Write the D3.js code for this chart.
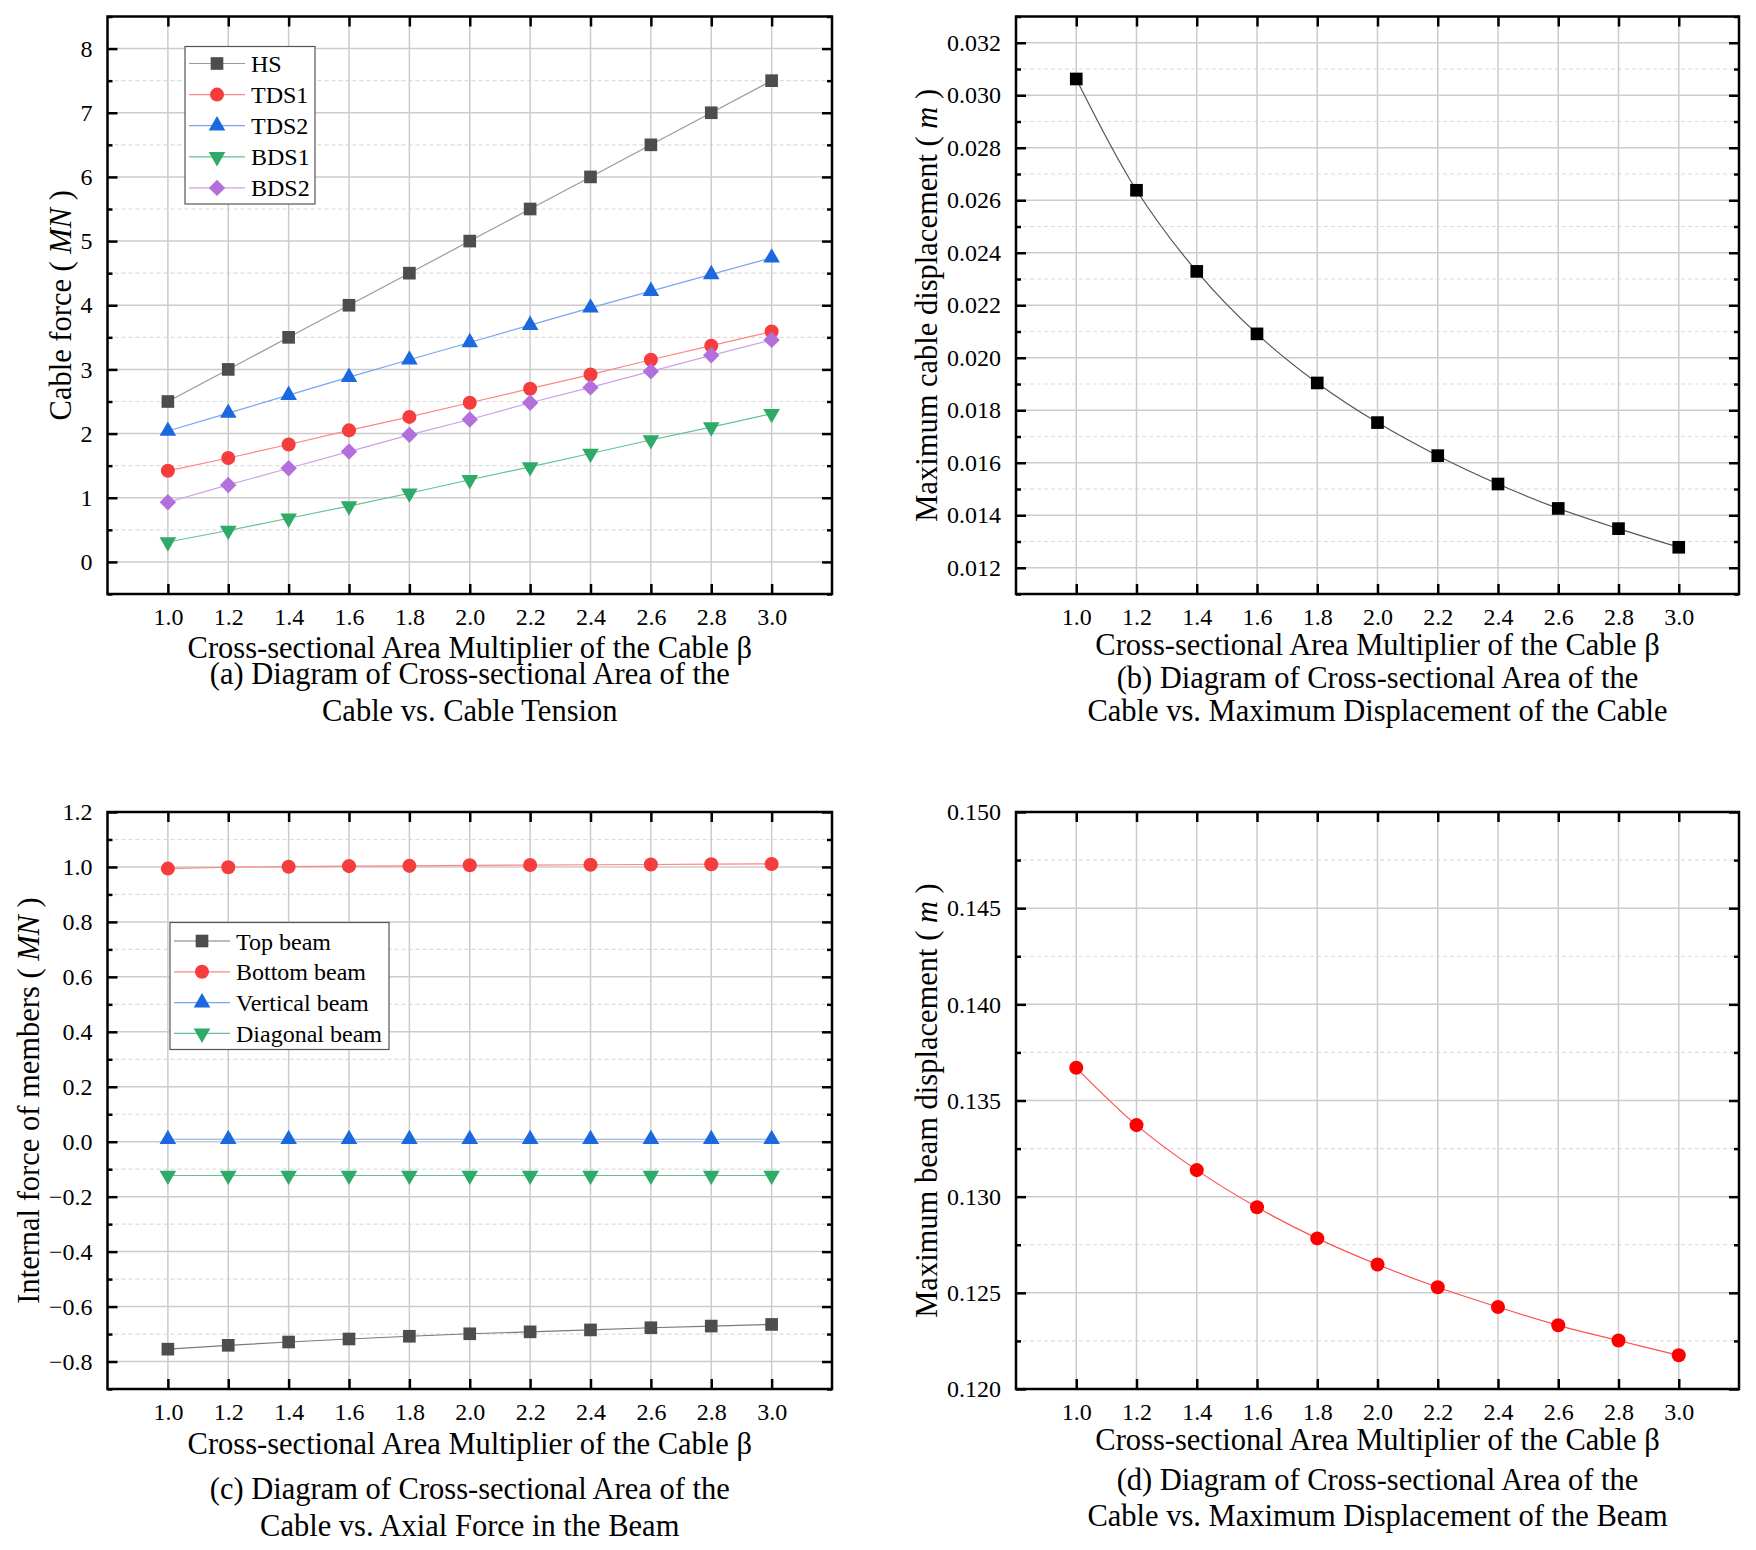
<!DOCTYPE html>
<html>
<head>
<meta charset="utf-8">
<script src="https://cdn.jsdelivr.net/npm/d3@7"></script>
<style>
  html, body { margin: 0; padding: 0; background: #fff; }
  svg text { font-family: "Liberation Serif", "Times New Roman", serif; fill: #000; }
</style>
</head>
<body>
<svg id="fig" width="1756" height="1550"></svg>
<script>
// ---- data ----
var BETA = [1.0, 1.2, 1.4, 1.6, 1.8, 2.0, 2.2, 2.4, 2.6, 2.8, 3.0];

// (a) cable force, MN
var HS   = [2.50, 3.00, 3.50, 4.00, 4.50, 5.00, 5.50, 6.00, 6.50, 7.00, 7.50];
var TDS1 = [1.42, 1.62, 1.83, 2.05, 2.26, 2.48, 2.70, 2.92, 3.15, 3.37, 3.59];
var TDS2 = [2.04, 2.32, 2.60, 2.88, 3.15, 3.42, 3.69, 3.96, 4.22, 4.48, 4.74];
var BDS1 = [0.31, 0.49, 0.68, 0.87, 1.07, 1.28, 1.48, 1.69, 1.90, 2.10, 2.31];
var BDS2 = [0.93, 1.20, 1.46, 1.72, 1.98, 2.22, 2.48, 2.72, 2.97, 3.22, 3.46];

// (b) maximum cable displacement, m
var CABLE_DISP = [0.03062, 0.02638, 0.02329, 0.02091, 0.01904, 0.01753,
                  0.01627, 0.01519, 0.01426, 0.01349, 0.01278];

// (c) internal force of members, MN
var TOP_BEAM      = [-0.755, -0.741, -0.729, -0.718, -0.708, -0.699, -0.692, -0.685, -0.677, -0.671, -0.665];
var BOTTOM_BEAM   = [0.994, 0.999, 1.001, 1.003, 1.004, 1.006, 1.007, 1.008, 1.009, 1.010, 1.011];
var VERTICAL_BEAM = [0.009, 0.009, 0.009, 0.009, 0.009, 0.009, 0.009, 0.009, 0.009, 0.009, 0.009];
var DIAGONAL_BEAM = [-0.123, -0.123, -0.123, -0.123, -0.123, -0.123, -0.123, -0.123, -0.123, -0.123, -0.123];

// (d) maximum beam displacement, m
var BEAM_DISP = [0.13670, 0.13372, 0.13138, 0.12945, 0.12783, 0.12647,
                 0.12529, 0.12426, 0.12331, 0.12252, 0.12175];

var X_TITLE = "Cross-sectional Area Multiplier of the Cable \u03b2";

var TITLE_FONT = "30.5px";
var TICK_FONT = "24px";

var svg = d3.select("#fig");

// marker shapes
var SHAPES = {
  square:   {sym: d3.symbolSquare,   size: 160, rot: 0},
  circle:   {sym: d3.symbolCircle,   size: 155, rot: 0},
  up:       {sym: d3.symbolTriangle, size: 120, rot: 0},
  down:     {sym: d3.symbolTriangle, size: 120, rot: 180},
  diamond:  {sym: d3.symbolSquare,   size: 135, rot: 45}
};

function marker(g, shape, x, y, fill) {
  var s = SHAPES[shape];
  g.append("path")
   .attr("d", d3.symbol().type(s.sym).size(s.size)())
   .attr("transform", "translate(" + x + "," + y + ") rotate(" + s.rot + ")")
   .attr("fill", fill);
}

/**
 * Draw one panel: frame, grid, inward ticks, labels, series, captions
 */
function draw_panel(p) {
  var g = svg.append("g");

  var xscale = d3.scaleLinear().domain([0.8, 3.2]).range([p.left, p.right]);
  var yscale = d3.scaleLinear().domain(p.ydomain).range([p.bottom, p.top]);

  // minor grid (dashed)
  g.selectAll(".ymin").data(p.yminor).enter().append("line")
   .attr("x1", p.left).attr("x2", p.right)
   .attr("y1", function (d) { return yscale(d); })
   .attr("y2", function (d) { return yscale(d); })
   .attr("stroke", "#dcdcdc").attr("stroke-width", 1.2)
   .attr("stroke-dasharray", "4,3");

  // major grid
  g.selectAll(".ymaj").data(p.yticks).enter().append("line")
   .attr("x1", p.left).attr("x2", p.right)
   .attr("y1", function (d) { return yscale(d); })
   .attr("y2", function (d) { return yscale(d); })
   .attr("stroke", "#cccccc").attr("stroke-width", 1.5);

  g.selectAll(".xmaj").data(BETA).enter().append("line")
   .attr("y1", p.top).attr("y2", p.bottom)
   .attr("x1", function (d) { return xscale(d); })
   .attr("x2", function (d) { return xscale(d); })
   .attr("stroke", "#cccccc").attr("stroke-width", 1.5);

  // axes with inward ticks, on all four sides
  var fmt = d3.format(p.fmt);
  var y_left = d3.axisLeft(yscale).tickValues(p.yticks).tickSize(-10).tickFormat(fmt).tickPadding(15);
  var y_right = d3.axisRight(yscale).tickValues(p.yticks).tickSize(-10).tickFormat("");
  var y_left_min = d3.axisLeft(yscale).tickValues(p.yminor).tickSize(-5).tickFormat("");
  var y_right_min = d3.axisRight(yscale).tickValues(p.yminor).tickSize(-5).tickFormat("");
  var x_bottom = d3.axisBottom(xscale).tickValues(BETA).tickSize(-10).tickFormat(d3.format(".1f")).tickPadding(14);
  var x_top = d3.axisTop(xscale).tickValues(BETA).tickSize(-10).tickFormat("");

  [
    [y_left, "translate(" + p.left + ",0)"],
    [y_right, "translate(" + p.right + ",0)"],
    [y_left_min, "translate(" + p.left + ",0)"],
    [y_right_min, "translate(" + p.right + ",0)"],
    [x_bottom, "translate(0," + p.bottom + ")"],
    [x_top, "translate(0," + p.top + ")"]
  ].forEach(function (a) {
    var ax = g.append("g").attr("transform", a[1]).call(a[0]);
    ax.select(".domain").remove();
    ax.selectAll(".tick line").attr("stroke", "#000").attr("stroke-width", 2.5);
    ax.selectAll("text").style("font-size", TICK_FONT).attr("fill", "#000");
  });

  // series
  p.series.forEach(function (s) {
    var line = d3.line()
                 .x(function (d, i) { return xscale(BETA[i]); })
                 .y(function (d) { return yscale(d); })
                 .curve(p.smooth ? d3.curveCatmullRom : d3.curveLinear);
    g.append("path").datum(s.values)
     .attr("d", line).attr("fill", "none")
     .attr("stroke", s.line).attr("stroke-width", 1.2);
    s.values.forEach(function (v, i) {
      marker(g, s.shape, xscale(BETA[i]), yscale(v), s.color);
    });
  });

  // frame
  g.append("rect")
   .attr("x", p.left).attr("y", p.top)
   .attr("width", p.right - p.left).attr("height", p.bottom - p.top)
   .attr("fill", "none").attr("stroke", "#000").attr("stroke-width", 2.5);

  // legend
  if (p.legend) {
    var L = p.legend;
    g.append("rect")
     .attr("x", L.x).attr("y", L.y).attr("width", L.w).attr("height", L.h)
     .attr("fill", "#fff").attr("stroke", "#555").attr("stroke-width", 1.2);
    p.series.forEach(function (s, i) {
      var yy = L.y + L.first + i * L.step;
      g.append("line")
       .attr("x1", L.x + 4).attr("x2", L.x + 60)
       .attr("y1", yy).attr("y2", yy)
       .attr("stroke", s.line).attr("stroke-width", 1.2);
      marker(g, s.shape, L.x + 32, yy, s.color);
      g.append("text")
       .attr("x", L.x + 66).attr("y", yy + 8.5)
       .style("font-size", TICK_FONT)
       .text(s.name);
    });
  }

  // x title and caption
  var cx = (p.left + p.right) / 2;
  g.append("text").attr("x", cx).attr("y", p.xtitle_y)
   .attr("text-anchor", "middle").style("font-size", TITLE_FONT).text(X_TITLE);
  p.caption.forEach(function (c, i) {
    g.append("text").attr("x", cx).attr("y", p.caption_y[i])
     .attr("text-anchor", "middle").style("font-size", TITLE_FONT).text(c);
  });

  // y title (rotated, with italic unit)
  var cy = (p.top + p.bottom) / 2;
  var yt = g.append("text")
            .attr("transform", "translate(" + p.ytitle_x + "," + cy + ") rotate(-90)")
            .attr("text-anchor", "middle").style("font-size", TITLE_FONT);
  yt.append("tspan").text(p.ytitle[0]);
  yt.append("tspan").style("font-style", "italic").text(p.ytitle[1]);
  yt.append("tspan").text(p.ytitle[2]);
}

function steps(a, b, step) {
  var out = [];
  var n = Math.round((b - a) / step);
  for (var i = 0; i <= n; i++) out.push(+(a + i * step).toFixed(6));
  return out;
}

// ---- (a) ----
draw_panel({
  left: 107.5, right: 832, top: 16.5, bottom: 594,
  ydomain: [-0.5, 8.5],
  yticks: steps(0, 8, 1), yminor: steps(-0.5, 8.5, 1),
  fmt: "d",
  series: [
    {name: "HS",   values: HS,   shape: "square",  color: "#4d4d4d", line: "#9a9a9a"},
    {name: "TDS1", values: TDS1, shape: "circle",  color: "#f53d3d", line: "#ff8484"},
    {name: "TDS2", values: TDS2, shape: "up",      color: "#1c68de", line: "#78a6ee"},
    {name: "BDS1", values: BDS1, shape: "down",    color: "#2eab68", line: "#63c28f"},
    {name: "BDS2", values: BDS2, shape: "diamond", color: "#b36fdc", line: "#c9a2e9"}
  ],
  legend: {x: 185, y: 46.5, w: 130, h: 157.5, first: 17, step: 31.1},
  xtitle_y: 658,
  caption: ["(a) Diagram of Cross-sectional Area of the", "Cable vs. Cable Tension"],
  caption_y: [684, 721],
  ytitle_x: 71,
  ytitle: ["Cable force ( ", "MN", " )"]
});

// ---- (b) ----
draw_panel({
  left: 1016, right: 1739, top: 16.5, bottom: 594,
  ydomain: [0.011, 0.033],
  yticks: steps(0.012, 0.032, 0.002), yminor: steps(0.011, 0.033, 0.002),
  fmt: ".3f",
  smooth: true,
  series: [
    {name: "disp", values: CABLE_DISP, shape: "square", color: "#000", line: "#555"}
  ],
  xtitle_y: 655,
  caption: ["(b) Diagram of Cross-sectional Area of the", "Cable vs. Maximum Displacement of the Cable"],
  caption_y: [688, 721],
  ytitle_x: 937,
  ytitle: ["Maximum cable displacement ( ", "m", " )"]
});

// ---- (c) ----
draw_panel({
  left: 107.5, right: 832, top: 812, bottom: 1389,
  ydomain: [-0.9, 1.2],
  yticks: steps(-0.8, 1.2, 0.2), yminor: steps(-0.9, 1.1, 0.2),
  fmt: ".1f",
  series: [
    {name: "Top beam",      values: TOP_BEAM,      shape: "square", color: "#4d4d4d", line: "#7a7a7a"},
    {name: "Bottom beam",   values: BOTTOM_BEAM,   shape: "circle", color: "#f53d3d", line: "#ff8484"},
    {name: "Vertical beam", values: VERTICAL_BEAM, shape: "up",     color: "#1c68de", line: "#78a6ee"},
    {name: "Diagonal beam", values: DIAGONAL_BEAM, shape: "down",   color: "#2eab68", line: "#63c28f"}
  ],
  legend: {x: 170, y: 922.5, w: 219, h: 127, first: 18.5, step: 30.8},
  xtitle_y: 1454,
  caption: ["(c) Diagram of Cross-sectional Area of the", "Cable vs. Axial Force in the Beam"],
  caption_y: [1499, 1536],
  ytitle_x: 39,
  ytitle: ["Internal force of members ( ", "MN", " )"]
});

// ---- (d) ----
draw_panel({
  left: 1016, right: 1739, top: 812, bottom: 1389,
  ydomain: [0.120, 0.150],
  yticks: steps(0.120, 0.150, 0.005), yminor: steps(0.1225, 0.1475, 0.005),
  fmt: ".3f",
  smooth: true,
  series: [
    {name: "disp", values: BEAM_DISP, shape: "circle", color: "#ff0000", line: "#ff5050"}
  ],
  xtitle_y: 1450,
  caption: ["(d) Diagram of Cross-sectional Area of the", "Cable vs. Maximum Displacement of the Beam"],
  caption_y: [1490, 1526],
  ytitle_x: 937,
  ytitle: ["Maximum beam displacement ( ", "m", " )"]
});
</script>
</body>
</html>
